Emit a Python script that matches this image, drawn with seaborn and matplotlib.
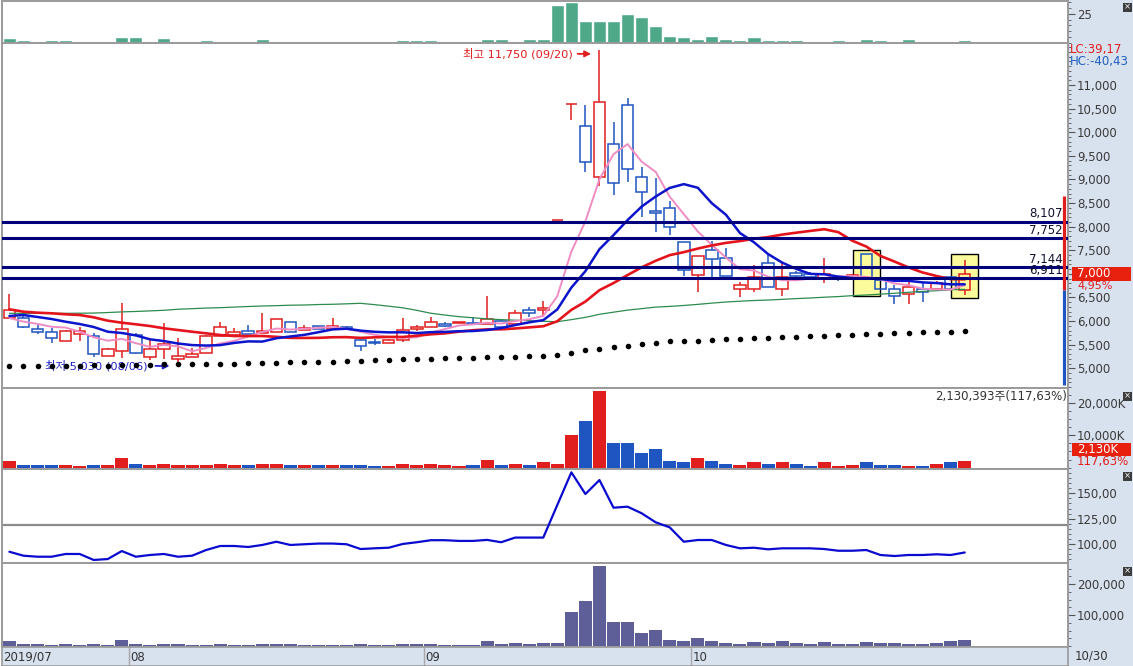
import matplotlib
matplotlib.use("Agg")
import matplotlib.pyplot as plt
from matplotlib.patches import Rectangle
from matplotlib.ticker import FixedLocator, MultipleLocator
import numpy as np
import pandas as pd
import seaborn as sns

# ---------------- data ----------------
dates = [
    "2019-07-19", "2019-07-22", "2019-07-23", "2019-07-24", "2019-07-25", "2019-07-26",
    "2019-07-29", "2019-07-30", "2019-07-31",
    "2019-08-01", "2019-08-02", "2019-08-05", "2019-08-06", "2019-08-07", "2019-08-08",
    "2019-08-09", "2019-08-12", "2019-08-13", "2019-08-14", "2019-08-16", "2019-08-19",
    "2019-08-20", "2019-08-21", "2019-08-22", "2019-08-23", "2019-08-26", "2019-08-27",
    "2019-08-28", "2019-08-29", "2019-08-30",
    "2019-09-02", "2019-09-03", "2019-09-04", "2019-09-05", "2019-09-06", "2019-09-09",
    "2019-09-10", "2019-09-11", "2019-09-16", "2019-09-17", "2019-09-18", "2019-09-19",
    "2019-09-20", "2019-09-23", "2019-09-24", "2019-09-25", "2019-09-26", "2019-09-27",
    "2019-09-30",
    "2019-10-01", "2019-10-02", "2019-10-04", "2019-10-07", "2019-10-08", "2019-10-10",
    "2019-10-11", "2019-10-14", "2019-10-15", "2019-10-16", "2019-10-17", "2019-10-18",
    "2019-10-21", "2019-10-22", "2019-10-23", "2019-10-24", "2019-10-25", "2019-10-28",
    "2019-10-29", "2019-10-30",
]

opens = [6059, 6059, 5826, 5762, 5585, 5726, 5684, 5267, 5373, 5705, 5233, 5402, 5197, 5233,
         5318, 5684, 5705, 5790, 5754, 5775, 5980, 5811, 5896, 5826, 5868, 5600, 5563, 5530,
         5600, 5826, 5868, 5938, 5953, 5953, 5932, 6008, 5932, 6235, 6235, 8150, 10600, 10131,
         9058, 9744, 10577, 9058, 8332, 8389, 7681, 6977, 7506, 7343, 6673, 6673, 7224, 6673,
         7025, 6990, 6919, 6940, 6891, 7421, 6870, 6673, 6574, 6673, 6673, 6940, 6658]
highs = [6574, 6150, 5917, 5847, 5810, 5881, 5741, 5430, 6389, 5741, 5600, 5960, 5635, 5430,
         5700, 5980, 5850, 5917, 6165, 6038, 5980, 5917, 5896, 6060, 5900, 5670, 5620, 5620,
         6059, 5917, 6080, 5990, 5990, 6080, 6531, 6020, 6235, 6290, 6432, 8150, 10600, 10577,
         11750, 10223, 10731, 9257, 9037, 8543, 7681, 7379, 7696, 7540, 6834, 7188, 7400, 7224,
         7060, 7050, 7330, 6960, 7000, 7421, 6900, 6764, 6834, 6800, 6850, 6960, 7294]
lows = [6040, 5854, 5726, 5542, 5585, 5585, 5240, 5267, 5212, 5300, 5170, 5197, 5030, 5233,
        5318, 5684, 5705, 5726, 5754, 5775, 5775, 5811, 5826, 5826, 5826, 5373, 5500, 5530,
        5563, 5790, 5868, 5880, 5953, 5932, 5932, 5868, 5932, 6080, 6093, 8150, 10258, 9164,
        8861, 8670, 8939, 8198, 7893, 7823, 6961, 6622, 6940, 6961, 6517, 6622, 6728, 6538,
        6900, 6900, 6800, 6850, 6891, 6885, 6680, 6362, 6362, 6410, 6650, 6670, 6555]
closes = [6235, 5881, 5775, 5635, 5790, 5790, 5303, 5409, 5826, 5330, 5402, 5508, 5260, 5303,
          5684, 5881, 5775, 5726, 5790, 6038, 5775, 5853, 5826, 5896, 5826, 5472, 5530, 5600,
          5811, 5868, 5974, 5902, 5980, 5932, 6044, 5881, 6165, 6178, 6271, 8150, 10600, 9376,
          10634, 8918, 9215, 8740, 8296, 7999, 7082, 7379, 7309, 6961, 6764, 6940, 6728, 6940,
          6955, 6940, 6990, 6906, 6976, 6885, 6680, 6531, 6728, 6610, 6800, 6670, 7000]

ma5 = [6065, 5990, 5940, 5880, 5863, 5774, 5659, 5585, 5624, 5532, 5454, 5495, 5465, 5361,
       5431, 5527, 5581, 5674, 5771, 5842, 5821, 5836, 5856, 5878, 5835, 5775, 5710, 5665,
       5648, 5656, 5757, 5831, 5907, 5931, 5966, 5948, 6000, 6040, 6108, 6529, 7473, 8115,
       9006, 9536, 9749, 9377, 9161, 8634, 8266, 7899, 7613, 7346, 7099, 7071, 6940, 6867,
       6865, 6901, 6911, 6946, 6953, 6939, 6887, 6796, 6760, 6687, 6670, 6668, 6762]
ma10 = [6108, 6129, 6087, 6044, 5987, 5938, 5875, 5775, 5748, 5697, 5614, 5577, 5525, 5492,
        5482, 5491, 5538, 5570, 5566, 5637, 5674, 5709, 5765, 5824, 5839, 5798, 5773, 5761,
        5763, 5746, 5766, 5771, 5786, 5790, 5811, 5852, 5916, 5974, 6020, 6248, 6710, 7058,
        7523, 7822, 8139, 8425, 8638, 8820, 8901, 8824, 8495, 8253, 7866, 7669, 7420, 7240,
        7106, 7000, 6991, 6943, 6910, 6902, 6894, 6853, 6853, 6820, 6805, 6778, 6779]
ma20 = [6250, 6199, 6178, 6165, 6144, 6129, 6080, 6009, 5966, 5932, 5896, 5847, 5811, 5775,
        5741, 5705, 5684, 5684, 5684, 5667, 5644, 5643, 5645, 5658, 5660, 5644, 5656, 5665,
        5664, 5691, 5720, 5740, 5776, 5807, 5825, 5825, 5844, 5867, 5891, 5997, 6238, 6414,
        6655, 6806, 6975, 7138, 7277, 7397, 7460, 7536, 7603, 7656, 7695, 7745, 7779, 7832,
        7872, 7910, 7946, 7884, 7702, 7578, 7380, 7261, 7136, 7030, 6955, 6889, 6885]
ma60 = [6165, 6164, 6166, 6163, 6165, 6167, 6170, 6181, 6195, 6204, 6216, 6229, 6251, 6263,
        6276, 6284, 6297, 6309, 6320, 6327, 6336, 6341, 6351, 6356, 6366, 6377, 6348, 6316,
        6281, 6228, 6166, 6128, 6094, 6071, 6046, 6031, 6019, 6009, 5996, 5987, 6031, 6079,
        6144, 6189, 6232, 6264, 6296, 6311, 6331, 6354, 6381, 6404, 6421, 6436, 6446, 6461,
        6476, 6489, 6506, 6519, 6539, 6553, 6571, 6589, 6611, 6629, 6644, 6664, 6673]
trail_dots = [5040, 5046, 5044, 5051, 5049, 5057, 5060, 5058, 5066, 5071, 5074, 5081, 5086,
              5090, 5094, 5101, 5099, 5111, 5114, 5119, 5126, 5129, 5141, 5144, 5152, 5160,
              5171, 5180, 5197, 5197, 5204, 5219, 5219, 5226, 5240, 5240, 5242, 5254, 5254,
              5288, 5330, 5381, 5415, 5451, 5472, 5521, 5542, 5578, 5585, 5587, 5606, 5621,
              5623, 5642, 5644, 5657, 5663, 5690, 5692, 5712, 5714, 5733, 5735, 5748, 5750,
              5769, 5770, 5771, 5790]

levels = [8107, 7752, 7144, 6911]
level_labels = ["8,107", "7,752", "7,144", "6,911"]
marked_days = [61, 68]
marked_spans = [(6531, 7505), (6489, 7421)]
range_bar = (4646, 6658, 8649)

volume_k = [2070, 740, 740, 740, 740, 430, 740, 740, 2900, 1050, 740, 1050, 740, 740, 740,
            1050, 740, 740, 1050, 1050, 740, 740, 740, 740, 740, 740, 430, 430, 1050, 740,
            1050, 740, 430, 740, 2380, 740, 1140, 930, 1670, 1050, 10090, 14410, 23670, 7530,
            7530, 4440, 5770, 2070, 1670, 3090, 2070, 1050, 830, 1670, 1050, 1670, 1050, 520,
            1670, 520, 830, 1670, 830, 830, 520, 520, 1050, 1811, 2130]
volume_red = [1, 0, 0, 0, 1, 1, 0, 1, 1, 0, 1, 1, 1, 1, 1, 1, 1, 0, 1, 1, 0, 1, 0, 1, 0, 0,
              0, 1, 1, 1, 1, 1, 1, 0, 1, 0, 1, 0, 1, 1, 1, 0, 1, 0, 0, 0, 0, 0, 0, 1, 0, 0,
              1, 1, 0, 1, 0, 0, 1, 1, 1, 0, 0, 0, 1, 0, 1, 0, 1]
value_mil = [16100, 6500, 6500, 2200, 6500, 2200, 6500, 2200, 19400, 6500, 2200, 6500, 6500,
             2200, 2200, 6500, 2200, 2200, 6500, 6500, 6500, 2200, 2200, 2200, 2200, 6500,
             2200, 2200, 6500, 6500, 6500, 2200, 2200, 2200, 16100, 6500, 9700, 6500, 9700,
             9700, 110700, 146100, 258100, 78400, 78400, 42900, 51600, 19400, 16100, 26800,
             16100, 8700, 6500, 12900, 10600, 16100, 10600, 6500, 12900, 6500, 6500, 12900,
             8700, 8700, 6500, 6500, 10600, 17100, 19400]
top_bars = [4.4, 2.4, 0, 2.4, 2.4, 0, 0, 0, 5.2, 5.2, 0, 4.4, 0, 0, 2.4, 0, 0, 0, 3.5, 0,
            0, 0, 0, 0, 0, 0, 0, 0, 2.4, 2.4, 2.4, 0, 0, 0, 3.2, 3.2, 0, 3.2, 3.2, 32.8, 35.5,
            18.9, 18.9, 18.9, 25.0, 22.6, 14.5, 6.1, 5.2, 3.2, 6.1, 3.2, 2.4, 5.2, 2.4, 2.4,
            2.4, 0, 0, 2.4, 0, 3.2, 2.4, 0, 3.2, 0, 0, 0, 2.4]
ratio_line = [92.3, 88.4, 87.4, 87.4, 90.1, 90.1, 84.2, 85.1, 93.0, 87.4, 89.1, 90.1, 87.4,
              88.4, 94.0, 98.0, 98.0, 97.0, 99.0, 102.2, 99.0, 99.7, 100.4, 100.4, 99.7, 95.0,
              95.7, 96.3, 100.0, 101.7, 103.7, 103.7, 103.0, 103.0, 104.0, 101.7, 106.3, 106.3,
              106.3, 138.5, 170.7, 149.3, 163.1, 135.8, 136.8, 130.3, 121.4, 116.4, 102.2,
              103.9, 103.9, 99.0, 95.7, 96.3, 94.7, 95.7, 95.7, 95.7, 95.0, 93.3, 93.3, 94.0,
              89.1, 88.1, 89.1, 89.1, 89.8, 89.1, 91.6]
ratio_ref = 118.7

# ---------------- style ----------------
W, H = 1133, 666
RED = "#e01e1e"
BLUE = "#1f55c0"
STRIP = "#d8e1ee"
GRID = "#9a9a9a"
XL = (-0.527, 75.35)

sns.set_theme(style="white")
plt.rcParams["font.family"] = ["DejaVu Sans", "Noto Sans CJK KR"]

fig = plt.figure(figsize=(W / 100, H / 100), dpi=100)
fig.patch.set_facecolor("white")

strip = fig.add_axes([1068 / W, 0, 1 - 1068 / W, 1])
strip.set_facecolor(STRIP)
strip.set_xticks([])
strip.set_yticks([])
for s in strip.spines.values():
    s.set_visible(False)


def add_panel(y0, y1):
    ax = fig.add_axes([2 / W, 1 - y1 / H, 1066 / W, (y1 - y0) / H])
    ax.set_xlim(*XL)
    ax.set_facecolor("white")
    for s in ax.spines.values():
        s.set_color(GRID)
        s.set_linewidth(1.4)
    ax.set_xticks([])
    ax.tick_params(axis="y", which="both", left=False, labelleft=False, right=True,
                   labelright=True, direction="out", colors="#555555", labelcolor="#3a3a3a",
                   labelsize=8.5, pad=1.5)
    ax.tick_params(axis="y", which="major", length=5, width=0.8)
    ax.tick_params(axis="y", which="minor", length=2.5, width=0.6)
    return ax


x = np.arange(len(dates))
o, h, l, c = map(np.array, (opens, highs, lows, closes))

# ---- top panel (green bars)
ax_top = add_panel(1, 43)
sns.barplot(x=x, y=top_bars, ax=ax_top, color="#4fa888", width=0.93, native_scale=True,
            saturation=1)
ax_top.set_xlim(*XL)
ax_top.set_ylim(-0.3, 36.3)
ax_top.yaxis.set_major_locator(FixedLocator([25]))
ax_top.yaxis.set_minor_locator(MultipleLocator(5))
ax_top.set_ylabel("")

# ---- price panel
ax = add_panel(43, 388)
ax.set_ylim(4583, 11890)
ax.yaxis.set_major_locator(FixedLocator(range(5000, 11001, 500)))
ax.yaxis.set_minor_locator(MultipleLocator(100))
ax.set_yticklabels([f"{v:,}" for v in range(5000, 11001, 500)])

for d, (lo_b, hi_b) in zip(marked_days, marked_spans):
    ax.add_patch(Rectangle((d - 0.96, lo_b), 1.92, hi_b - lo_b, facecolor="#fcfc9c",
                           edgecolor="black", lw=1.0, zorder=1))

up = c >= o
col = np.where(up, RED, BLUE)
body_lo = np.minimum(o, c)
body_hi = np.maximum(o, c)
ax.vlines(x, body_hi, h, colors=col, lw=1.1, zorder=3)
ax.vlines(x, l, body_lo, colors=col, lw=1.1, zorder=3)
ax.bar(x, body_hi - body_lo, bottom=body_lo, width=0.82, fill=False, edgecolor=col,
       linewidth=1.1, zorder=3)

sns.lineplot(x=x, y=ma60, ax=ax, color="#2e8b4e", lw=0.9, zorder=4)
sns.lineplot(x=x, y=ma5, ax=ax, color="#f08cc4", lw=1.4, zorder=4)
sns.lineplot(x=x, y=ma20, ax=ax, color="#e4141c", lw=1.9, zorder=4)
sns.lineplot(x=x, y=ma10, ax=ax, color="#0c14cc", lw=1.8, zorder=4)

for lv, lab in zip(levels, level_labels):
    ax.axhline(lv, color="#00007c", lw=2.2, zorder=5)
    ax.text(74.95, lv + 170, lab, ha="right", va="center", fontsize=8.5, color="#101030",
            zorder=6)

sns.scatterplot(x=x, y=trail_dots, ax=ax, color="black", s=16, linewidth=0, zorder=6)

ax.vlines(75.05, range_bar[1], range_bar[2], colors="#e01e1e", lw=2.3, zorder=6)
ax.vlines(75.05, range_bar[0], range_bar[1], colors="#1f55c0", lw=2.3, zorder=6)

hi_i = int(np.argmax(h))
lo_i = int(np.argmin(l))
ax.annotate("", xy=(hi_i - 0.4, h[hi_i] - 90), xytext=(hi_i - 1.75, h[hi_i] - 90),
            arrowprops=dict(arrowstyle="-|>", color=RED, lw=1.3, mutation_scale=9), zorder=7)
ax.text(hi_i - 1.9, h[hi_i] - 90, f"최고 {h[hi_i]:,} ({pd.to_datetime(dates[hi_i]):%m/%d})",
        ha="right", va="center", fontsize=8.2, color=RED, zorder=7)
ax.annotate("", xy=(lo_i - 0.4, l[lo_i] + 20), xytext=(lo_i - 1.8, l[lo_i] + 20),
            arrowprops=dict(arrowstyle="-|>", color="#2020c8", lw=1.3, mutation_scale=9),
            zorder=5)
ax.text(lo_i - 2.15, l[lo_i] + 20, f"최저 {l[lo_i]:,} ({pd.to_datetime(dates[lo_i]):%m/%d})",
        ha="right", va="center", fontsize=8.2, color="#2020c8", zorder=5)
ax.set_ylabel("")

# ---- volume panel
ax_v = add_panel(388, 468.5)
vcol = [RED if r else BLUE for r in volume_red]
ax_v.bar(x, volume_k, width=0.93, color=vcol, linewidth=0)
ax_v.set_ylim(-250, 24600)
ax_v.yaxis.set_major_locator(FixedLocator([10000, 20000]))
ax_v.yaxis.set_minor_locator(MultipleLocator(2500))
ax_v.set_yticklabels(["10,000K", "20,000K"])
ax_v.text(0.9995, 0.9, "2,130,393주(117,63%)", transform=ax_v.transAxes, ha="right",
          va="center", fontsize=8.5, color="#333333")

# ---- ratio panel
ax_r = add_panel(468.5, 563)
ax_r.axhline(ratio_ref, color="#8a8a8a", lw=1.6)
sns.lineplot(x=x, y=ratio_line, ax=ax_r, color="#0a0ad0", lw=1.6)
ax_r.set_xlim(*XL)
ax_r.set_ylim(81.2, 174.5)
ax_r.yaxis.set_major_locator(FixedLocator([100, 125, 150]))
ax_r.yaxis.set_minor_locator(MultipleLocator(5))
ax_r.set_yticklabels(["100,00", "125,00", "150,00"])
ax_r.set_ylabel("")

# ---- traded value panel
ax_p = add_panel(563, 646.5)
ax_p.bar(x, value_mil, width=0.93, color="#5e5e98", linewidth=0)
ax_p.set_ylim(-1600, 267800)
ax_p.yaxis.set_major_locator(FixedLocator([100000, 200000]))
ax_p.yaxis.set_minor_locator(MultipleLocator(25000))
ax_p.set_yticklabels(["100,000", "200,000"])

# ---- date strip
ax_d = fig.add_axes([2 / W, 0, 1066 / W, (666 - 646.5) / H])
ax_d.set_facecolor(STRIP)
ax_d.set_xlim(*XL)
ax_d.set_ylim(0, 1)
ax_d.set_xticks([])
ax_d.set_yticks([])
for s in ax_d.spines.values():
    s.set_color(GRID)
    s.set_linewidth(1.2)
dt = pd.to_datetime(pd.Series(dates))
starts = [0] + [i for i in range(1, len(dt)) if dt[i].month != dt[i - 1].month]
for k, i in enumerate(starts):
    lab = dt[i].strftime("%Y/%m") if k == 0 else dt[i].strftime("%m")
    if k > 0:
        ax_d.axvline(i - 0.5, color="#a8a8a8", lw=1)
        ax_d.text(i - 0.38, 0.45, lab, ha="left", va="center", fontsize=8.5, color="#333333")
    else:
        ax_d.text(XL[0] + 0.1, 0.45, lab, ha="left", va="center", fontsize=8.5,
                  color="#333333")
fig.text(1075 / W, 1 - 656 / H, dt.iloc[-1].strftime("%m/%d"), ha="left", va="center",
         fontsize=8.5, color="#333333")

# ---- right-side labels
def fig_text(px, py, s, **kw):
    fig.text(px / W, 1 - py / H, s, **kw)


fig_text(1070, 50, "LC:39,17", color="#e01e1e", fontsize=8.5, va="center")
fig_text(1070, 62, "HC:-40,43", color="#1f5fc0", fontsize=8.5, va="center")
fig.patches.append(Rectangle((1072 / W, 1 - 281 / H), 59 / W, 14 / H, facecolor="#e8200e",
                             edgecolor="none", transform=fig.transFigure, figure=fig))
fig_text(1077, 274, f"{closes[-1]:,}", color="white", fontsize=8.5, va="center")
fig_text(1077, 286, "4,95%", color="#e01e1e", fontsize=8, va="center")
fig.patches.append(Rectangle((1072 / W, 1 - 456 / H), 59 / W, 13 / H, facecolor="#e8200e",
                             edgecolor="none", transform=fig.transFigure, figure=fig))
fig_text(1077, 449.5, f"{volume_k[-1]:,}K", color="white", fontsize=8.5, va="center")
fig_text(1077, 462, "117,63%", color="#e01e1e", fontsize=8.5, va="center")

for cy in (7, 396, 476, 571):
    fig.patches.append(Rectangle((1122.5 / W, 1 - (cy + 4.5) / H), 9 / W, 9 / H,
                                 facecolor="#3c3c3c", edgecolor="none",
                                 transform=fig.transFigure, figure=fig))
    fig_text(1127, cy, "×", color="white", fontsize=6, ha="center", va="center")

fig.savefig("out.png", dpi=100)
